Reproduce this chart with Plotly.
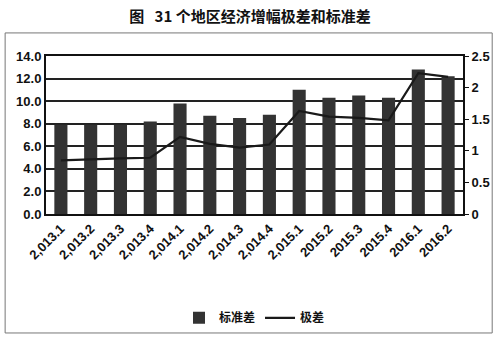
import plotly.graph_objects as go

categories = ["2,013.1", "2,013.2", "2,013.3", "2,013.4", "2,014.1", "2,014.2", "2,014.3",
              "2,014.4", "2,015.1", "2015.2", "2015.3", "2015.4", "2016.1", "2016.2"]
std_dev = [7.9, 7.9, 7.9, 8.2, 9.8, 8.7, 8.5, 8.8, 11.0, 10.3, 10.5, 10.3, 12.8, 12.2]
range_vals = [0.85, 0.87, 0.88, 0.89, 1.22, 1.11, 1.05, 1.10, 1.63, 1.54, 1.52, 1.48, 2.23, 2.17]
left_ticks = [0, 2, 4, 6, 8, 10, 12, 14]
right_ticks = [0, 0.5, 1, 1.5, 2, 2.5]

tickfont = dict(family="Liberation Sans Narrow, Liberation Sans", size=13, color="#111", weight="bold")
xtickfont = dict(family="Liberation Sans", size=13, color="#111", weight="bold")

fig = go.Figure()
fig.add_trace(go.Bar(x=categories, y=std_dev, name="标准差", marker_color="#333333",
                     marker_line_width=0, yaxis="y"))
fig.add_trace(go.Scatter(x=categories, y=range_vals, name="极差", mode="lines",
                         line=dict(color="#1a1a1a", width=2.2), yaxis="y2"))

fig.update_layout(
    width=500, height=341,
    margin=dict(l=46, r=37, t=56, b=127, autoexpand=False),
    paper_bgcolor="white", plot_bgcolor="white",
    bargap=0.56,
    showlegend=True,
    legend=dict(orientation="h", x=0.5, xanchor="center", yref="container", y=0.068,
                yanchor="middle",
                font=dict(family="Noto Sans CJK SC", size=12, color="#111", weight="bold"),
                itemwidth=30),
    title=dict(text="图\u00a0\u00a0\u00a031 个地区经济增幅极差和标准差", x=0.5, xanchor="center",
               y=0.952, yanchor="middle",
               font=dict(family="Noto Sans CJK SC", size=15, color="#111", weight="bold")),
    xaxis=dict(type="category", tickangle=-45, tickfont=xtickfont, showline=True,
               linecolor="#111", linewidth=2, mirror=True, ticks="", automargin=False),
    yaxis=dict(range=[0, 14], tickvals=left_ticks, tickformat=".1f", tickfont=tickfont,
               showgrid=True, gridcolor="#222", gridwidth=1.5, showline=True,
               linecolor="#111", linewidth=2, zeroline=False, ticks="", automargin=False),
    yaxis2=dict(range=[0, 2.5], tickvals=right_ticks, overlaying="y", side="right",
                tickfont=tickfont, showgrid=False, zeroline=False, ticks="outside",
                ticklen=4, tickcolor="#111", showline=True, linecolor="#111", linewidth=2,
                automargin=False),
    shapes=[dict(type="rect", xref="paper", yref="paper", x0=-0.098, x1=1.07,
                 y0=-0.753, y1=1.146, line=dict(color="#777", width=1), layer="below")],
)

fig.write_html("out.html")
